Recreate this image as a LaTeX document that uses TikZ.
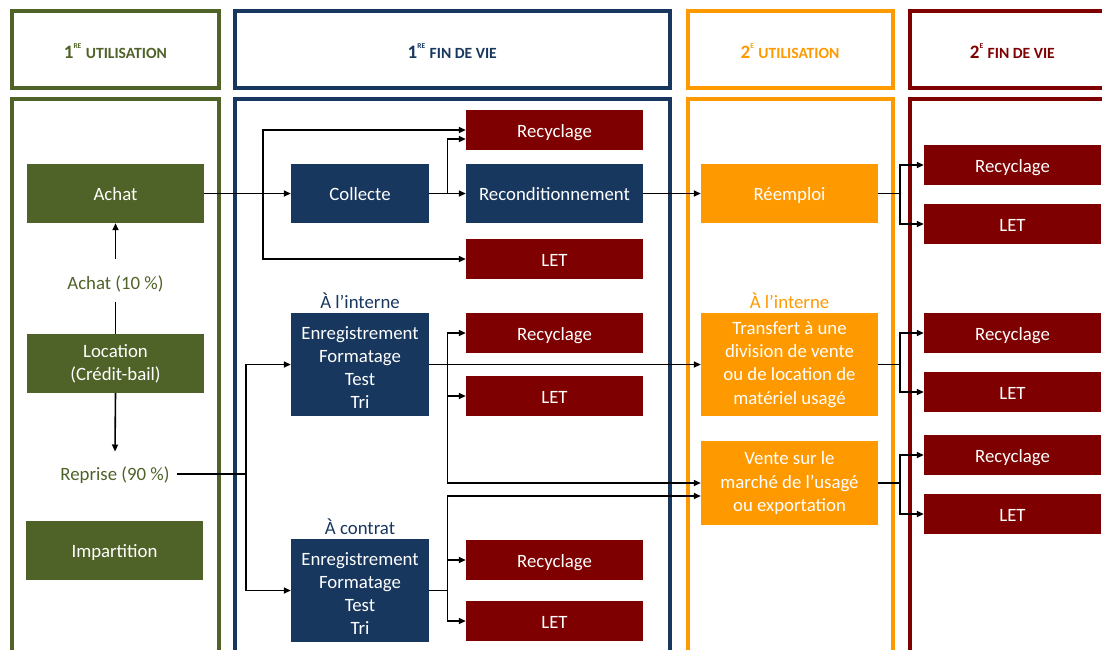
\documentclass[tikz,border=0pt]{standalone}
\usepackage{fontspec}
\setmainfont{Carlito}
\usetikzlibrary{arrows.meta}
\definecolor{cgreen}{HTML}{4F6228}
\definecolor{cblue}{HTML}{17375E}
\definecolor{corange}{HTML}{FF9900}
\definecolor{cred}{HTML}{7F0000}
% column title: number, raised suffix, small-capital word
\newcommand\hdrtext[3]{#1\raisebox{10pt}{\fontsize{7.5}{8}\selectfont #2}\hspace{4.5pt}{\fontsize{15.6}{16}\selectfont #3}}

\begin{document}
\begin{tikzpicture}[x=1pt,y=-1pt,
  every node/.style={font=\fontsize{18.8}{23.3}\selectfont},
  box/.style={minimum width=177pt, minimum height=59pt, inner sep=0pt, text=white, align=center},
  one/.style={text height=14pt, text depth=0pt},
  gbox/.style={box, one, fill=cgreen},
  bbox/.style={box, fill=cblue},
  obox/.style={box, fill=corange},
  rbox/.style={box, one, fill=cred, minimum height=40pt},
  hdr/.style={draw, line width=4pt, minimum height=76.7pt, inner sep=0pt,
              text height=17pt, text depth=0pt, font=\bfseries\fontsize{19}{20}\selectfont},
  col/.style={line width=4pt},
  conn/.style={line width=1.6pt},
  arr/.style={conn, -{Triangle[length=7pt,width=6pt]}},
  lbl/.style={inner sep=0pt},
]
\clip (0,0) rectangle (1102,649);

% column titles
\node[hdr, cgreen,  minimum width=206.7pt] (h1) at (115.35,49.65) {\hdrtext{1}{RE}{UTILISATION}};
\node[hdr, cblue,   minimum width=435.1pt] (h2) at (452.25,49.65) {\hdrtext{1}{RE}{FIN DE VIE}};
\node[hdr, corange, minimum width=205.1pt] (h3) at (790.05,49.65) {\hdrtext{2}{E}{UTILISATION}};
\node[hdr, cred,    minimum width=205.3pt] (h4) at (1012.35,49.65) {\hdrtext{2}{E}{FIN DE VIE}};

% column frames
\draw[col, cgreen]  (12,99) rectangle (218.7,700);
\draw[col, cblue]   (234.7,99) rectangle (669.8,700);
\draw[col, corange] (687.5,99) rectangle (892.6,700);
\draw[col, cred]    (909.7,99) rectangle (1115,700);

% first use
\node[gbox] (achat) at (115.5,193.5) {Achat};
\node[box, fill=cgreen] (loc) at (115.5,363.5) {Location\\(Crédit-bail)};
\node[gbox] (impart) at (114.5,550.5) {Impartition};
\node[lbl, text=cgreen, anchor=base, text height=30pt, text depth=13pt] (lab10) at (115.5,289) {Achat (10~\%)};
\node[lbl, text=cgreen, anchor=base, text height=29pt, text depth=15.6pt, inner xsep=7pt] (reprise) at (115,480.7) {Reprise (90~\%)};

% first end of life
\node[bbox, one, minimum width=138pt] (collecte) at (360,193.5) {Collecte};
\node[bbox, one] (recond) at (554.5,193.5) {Reconditionnement};
\node[rbox] (rec1) at (554.5,130) {Recyclage};
\node[rbox] (let1) at (554.5,259) {LET};
\node[lbl, text=cblue, anchor=base] (tint) at (360,308.3) {À l’interne};
\node[bbox, minimum width=138pt, minimum height=103pt] (proc1) at (360,364.5)
  {\rule{0pt}{19pt}Enregistrement\\Formatage\\Test\\Tri};
\node[rbox] (rec2) at (554.5,333) {Recyclage};
\node[rbox] (let2) at (554.5,396) {LET};
\node[lbl, text=cblue, anchor=base] (tcont) at (360,534) {À contrat};
\node[bbox, minimum width=138pt, minimum height=103pt] (proc2) at (360,590.5)
  {\rule{0pt}{19pt}Enregistrement\\Formatage\\Test\\Tri};
\node[rbox] (rec3) at (554.5,560) {Recyclage};
\node[rbox] (let3) at (554.5,621) {LET};

% second use
\node[obox, one] (reemploi) at (789.5,193.5) {Réemploi};
\node[lbl, text=corange, anchor=base] (tint2) at (789.5,308.3) {À l’interne};
\node[obox, minimum height=103pt] (transf) at (789.5,364.5)
  {Transfert à une\\division de vente\\ou de location de\\matériel usagé};
\node[obox, minimum height=84pt] (vente) at (789.5,483)
  {Vente sur le\\marché de l’usagé\\ou exportation};

% second end of life
\node[rbox] (rr1) at (1012.5,165) {Recyclage};
\node[rbox] (rl1) at (1012.5,224) {LET};
\node[rbox] (rr2) at (1012.5,333) {Recyclage};
\node[rbox] (rl2) at (1012.5,392) {LET};
\node[rbox] (rr3) at (1012.5,455) {Recyclage};
\node[rbox] (rl3) at (1012.5,514) {LET};

% branch points
\coordinate (j1) at (263,193.5);
\coordinate (j2) at (246,474);
\coordinate (j3) at (447.5,193.5);
\coordinate (j4) at (447.5,364.5);
\coordinate (j5) at (447.5,590.5);
\coordinate (j6) at (900,193.5);
\coordinate (j7) at (900,364.5);
\coordinate (j8) at (900,483);

% connectors
\draw[conn] (loc.north) -- (lab10.south);
\draw[arr] (lab10.north) -- (achat.south);
\draw[arr] (loc.south) -- (reprise.north);

\draw[arr] (achat.east) -- (collecte.west);
\draw[arr] (j1) |- (rec1.west);
\draw[arr] (j1) |- (let1.west);
\draw[arr] (collecte.east) -- (recond.west);
\draw[arr] (j3) |- ([yshift=-9pt]rec1.west);
\draw[arr] (recond.east) -- (reemploi.west);

\draw[conn] (reprise.east) -- (j2);
\draw[arr] (j2) |- (proc1.west);
\draw[arr] (j2) |- (proc2.west);

\draw[arr] (proc1.east) -- (transf.west);
\draw[arr] (j4) |- (rec2.west);
\draw[arr] (j4) |- (let2.west);
\draw[arr] (j4) |- (vente.west);

\draw[conn] (proc2.east) -- (j5);
\draw[arr] (j5) |- (rec3.west);
\draw[arr] (j5) |- (let3.west);
\draw[arr] (j5) |- ([yshift=-13pt]vente.west);

\draw[conn] (reemploi.east) -- (j6);
\draw[arr] (j6) |- (rr1.west);
\draw[arr] (j6) |- (rl1.west);
\draw[conn] (transf.east) -- (j7);
\draw[arr] (j7) |- (rr2.west);
\draw[arr] (j7) |- (rl2.west);
\draw[conn] (vente.east) -- (j8);
\draw[arr] (j8) |- (rr3.west);
\draw[arr] (j8) |- (rl3.west);
\end{tikzpicture}
\end{document}
